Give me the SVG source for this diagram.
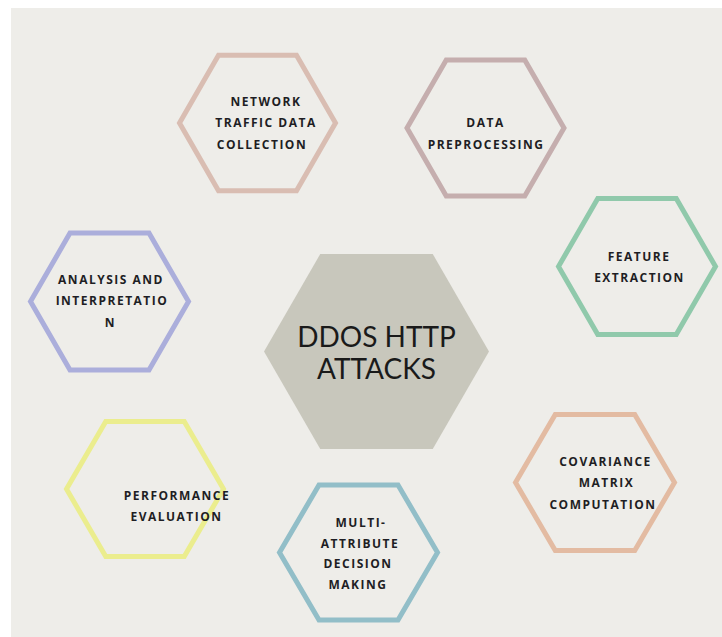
<svg xmlns="http://www.w3.org/2000/svg" width="722" height="637" viewBox="0 0 722 637">
<style>
.hx{fill:none;stroke-width:5;stroke-linejoin:miter}
.lb{font-family:"Open Sans","DejaVu Sans",sans-serif;font-weight:700;font-size:12px;letter-spacing:1.5px;fill:#1e1e24;text-anchor:middle}
.ct{font-family:Lato,"Liberation Sans",sans-serif;font-weight:400;font-size:28px;fill:#1a1a1a;text-anchor:middle}
</style>
<rect x="0" y="0" width="722" height="637" fill="#ffffff"/>
<rect x="11" y="8" width="711" height="629" fill="#eeede9"/>
<g id="center">
<polygon points="264,351.5 320.25,254 432.75,254 489,351.5 432.75,449 320.25,449" fill="#c8c7bc"/>
<text class="ct" x="376.5" y="347">DDOS HTTP</text>
<text class="ct" x="376.5" y="379">ATTACKS</text>
</g>
<g id="network">
<polygon class="hx" stroke="#d9bdb2" points="179.5,123 218.5,55.3 296.5,55.3 335.5,123 296.5,190.7 218.5,190.7"/>
<text class="lb" x="266" y="106">NETWORK</text>
<text class="lb" x="266" y="127">TRAFFIC DATA</text>
<text class="lb" x="262" y="149">COLLECTION</text>
</g>
<g id="preprocessing">
<polygon class="hx" stroke="#c5aeae" points="407,128 446.25,60 524.75,60 564,128 524.75,196 446.25,196"/>
<text class="lb" x="485.5" y="127">DATA</text>
<text class="lb" x="486" y="149">PREPROCESSING</text>
</g>
<g id="feature">
<polygon class="hx" stroke="#90c9ab" points="558.5,266.5 597.75,198.5 676.25,198.5 715.5,266.5 676.25,334.5 597.75,334.5"/>
<text class="lb" x="639" y="261">FEATURE</text>
<text class="lb" x="639.5" y="282">EXTRACTION</text>
</g>
<g id="covariance">
<polygon class="hx" stroke="#e3bba2" points="515.5,482.5 555.25,414.5 634.75,414.5 674.5,482.5 634.75,550.5 555.25,550.5"/>
<text class="lb" x="605.5" y="466">COVARIANCE</text>
<text class="lb" x="606.5" y="487">MATRIX</text>
<text class="lb" x="603" y="509">COMPUTATION</text>
</g>
<g id="mcdm">
<polygon class="hx" stroke="#92bec8" points="279.5,552.5 319,485 398,485 437.5,552.5 398,620 319,620"/>
<text class="lb" x="361" y="527">MULTI-</text>
<text class="lb" x="360" y="548">ATTRIBUTE</text>
<text class="lb" x="358" y="568">DECISION</text>
<text class="lb" x="358" y="589">MAKING</text>
</g>
<g id="performance">
<polygon class="hx" stroke="#ebed8e" points="66.5,489 105.75,421.5 184.25,421.5 223.5,489 184.25,556.5 105.75,556.5"/>
<text class="lb" x="177" y="500">PERFORMANCE</text>
<text class="lb" x="176.5" y="521">EVALUATION</text>
</g>
<g id="analysis">
<polygon class="hx" stroke="#abaedb" points="30.5,301.5 70,233.1 149,233.1 188.5,301.5 149,369.9 70,369.9"/>
<text class="lb" x="111" y="284">ANALYSIS AND</text>
<text class="lb" x="112" y="305">INTERPRETATIO</text>
<text class="lb" x="110.5" y="327">N</text>
</g>
<g id="connectors"/>
</svg>
